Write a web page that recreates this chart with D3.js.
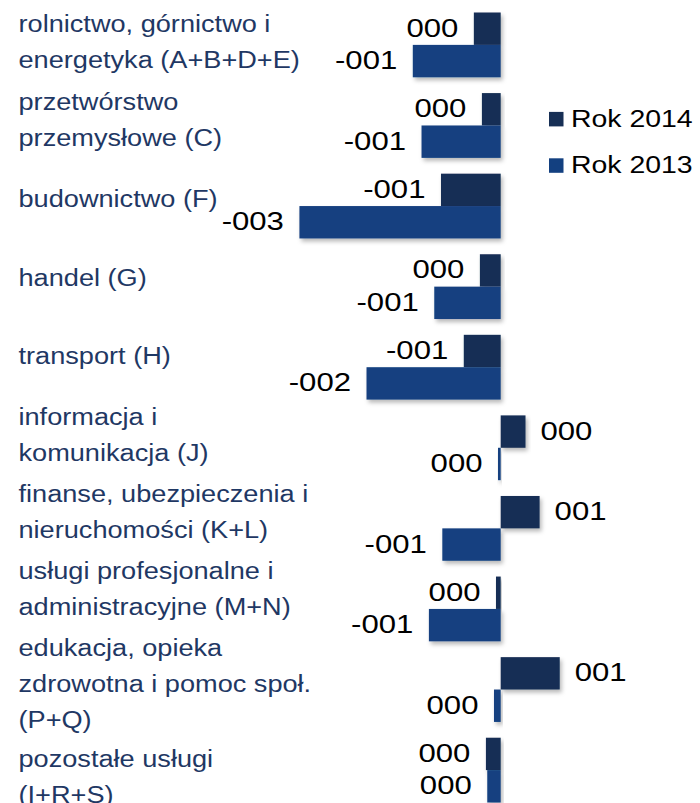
<!DOCTYPE html>
<html>
<head>
<meta charset="utf-8">
<script src="https://cdn.jsdelivr.net/npm/d3@7"></script>
<style>
  html, body { margin: 0; padding: 0; background: #fff; }
  svg { display: block; }
</style>
</head>
<body>
<div id="chart"></div>
<script>
// ---- data ----
const categories = [
  "rolnictwo, górnictwo i\nenergetyka (A+B+D+E)",
  "przetwórstwo\nprzemysłowe (C)",
  "budownictwo (F)",
  "handel (G)",
  "transport (H)",
  "informacja i\nkomunikacja (J)",
  "finanse, ubezpieczenia i\nnieruchomości (K+L)",
  "usługi profesjonalne i\nadministracyjne (M+N)",
  "edukacja, opieka\nzdrowotna i pomoc społ.\n(P+Q)",
  "pozostałe usługi\n(I+R+S)"
];
const seriesNames = ["Rok 2014", "Rok 2013"];
const values2014 = [-0.40, -0.28, -0.89, -0.31, -0.55, 0.37, 0.58, -0.07, 0.88, -0.22];
const values2013 = [-1.31, -1.18, -3.00, -0.99, -2.00, -0.04, -0.87, -1.07, -0.10, -0.20];

// ---- layout / style ----
const W = 700, H = 803;
const colors = { "Rok 2014": "#172f55", "Rok 2013": "#134080" };
const catColor = "#1f3864";
const stretch = 1.22;          // horizontal widening of the label fonts
const catStretch = 1.165;
const labelDy = [-13, -15, 0.7, -0.5, -3, -22.5, -26.3, -30.4, -33.8, -2.8];
const lineH = 36;

const rows = categories.map((c, i) => ({
  cat: c,
  vals: [
    { s: seriesNames[0], v: values2014[i] },
    { s: seriesNames[1], v: values2013[i] }
  ]
}));

const svg = d3.select("#chart").append("svg")
  .attr("width", W).attr("height", H);

const defs = svg.append("defs");
const f = defs.append("filter").attr("id", "shadow")
  .attr("x", "-20%").attr("y", "-20%").attr("width", "140%").attr("height", "160%");
f.append("feDropShadow").attr("dx", 2).attr("dy", 3).attr("stdDeviation", 2)
  .attr("flood-color", "#000").attr("flood-opacity", 0.28);

const x = d3.scaleLinear().domain([-3.2, 1.2]).range([286, 581.2]);
const y = d3.scaleBand().domain(categories).range([12.5, 802.5])
  .paddingInner(0.196).paddingOuter(0);
const ys = d3.scaleBand().domain(seriesNames).range([0, y.bandwidth()]);

function fmt(v) {
  const r = Math.round(Math.abs(v));
  const s = (v < 0 && r !== 0) ? "-" : "";
  return s + String(r).padStart(3, "0");
}

// stretched text helper: anchor 'start' or 'end' at xPos
function stretchedText(g, str, xPos, yPos, anchor, size, family, fill, k) {
  const t = g.append("text")
    .attr("x", 0).attr("y", yPos)
    .attr("font-family", family)
    .attr("font-size", size)
    .attr("fill", fill)
    .text(str);
  const len = t.node().getComputedTextLength();
  const L = len * k;
  t.attr("textLength", L).attr("lengthAdjust", "spacingAndGlyphs")
   .attr("x", anchor === "end" ? xPos - L : xPos);
  return t;
}

const gBars = svg.append("g");
const groups = gBars.selectAll("g.row").data(rows).join("g")
  .attr("class", "row")
  .attr("transform", d => `translate(0,${y(d.cat)})`);

groups.selectAll("rect").data(d => d.vals).join("rect")
  .attr("x", d => x(Math.min(0, d.v)))
  .attr("y", d => ys(d.s))
  .attr("width", d => Math.abs(x(d.v) - x(0)))
  .attr("height", ys.bandwidth())
  .attr("fill", d => colors[d.s])
  .attr("filter", "url(#shadow)");

// value labels
const gLab = svg.append("g");
rows.forEach(r => {
  r.vals.forEach(d => {
    const cy = y(r.cat) + ys(d.s) + ys.bandwidth() / 2 + 8;
    const fontF = "'Liberation Sans', Arial, sans-serif";
    if (d.v >= 0) {
      stretchedText(gLab, fmt(d.v), x(d.v) + 15, cy, "start", 25.5, fontF, "#000", stretch);
    } else {
      stretchedText(gLab, fmt(d.v), x(d.v) - 15.5, cy, "end", 25.5, fontF, "#000", stretch);
    }
  });
});

// category labels
const gCat = svg.append("g");
categories.forEach((c, i) => {
  const lines = c.split("\n");
  const base = y(c) + y.bandwidth() / 2 + labelDy[i];
  lines.forEach((ln, k) => {
    stretchedText(gCat, ln, 18.5, base + k * lineH, "start", 23.3,
      "'Liberation Sans', Arial, sans-serif", catColor, catStretch);
  });
});

// legend
const gLeg = svg.append("g");
seriesNames.forEach((s, i) => {
  const top = 111.9 + i * 46.4;
  gLeg.append("rect").attr("x", 549).attr("y", top).attr("width", 14.5).attr("height", 14.5)
    .attr("fill", colors[s]);
  stretchedText(gLeg, s, 571, top + 14.8, "start", 23.3,
    "'Liberation Sans', Arial, sans-serif", "#000", stretch);
});
</script>
</body>
</html>
